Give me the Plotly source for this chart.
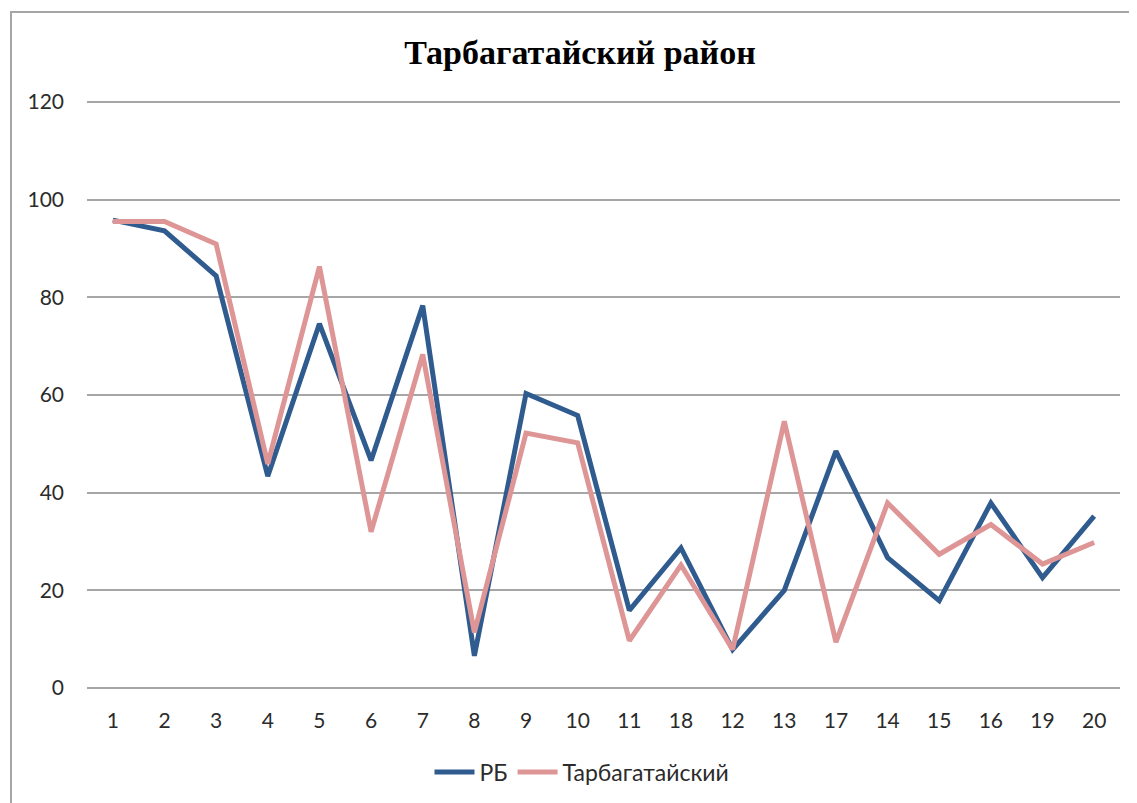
import plotly.graph_objects as go

categories = ["1", "2", "3", "4", "5", "6", "7", "8", "9", "10",
              "11", "18", "12", "13", "17", "14", "15", "16", "19", "20"]
rb = [95.8, 93.6, 84.4, 43.4, 74.6, 46.6, 78.3, 6.6, 60.3, 55.8,
      15.9, 28.7, 7.9, 20.0, 48.5, 26.7, 17.9, 37.9, 22.6, 35.2]
tarb = [95.5, 95.5, 90.9, 45.9, 86.3, 32.0, 68.3, 11.4, 52.2, 50.2,
        9.7, 25.2, 7.9, 54.6, 9.4, 37.9, 27.4, 33.5, 25.4, 29.8]
series_names = ["РБ", "Тарбагатайский"]
y_ticks = [0, 20, 40, 60, 80, 100, 120]
title_text = "Тарбагатайский район"

# page body has an 8px margin, so the figure is drawn 8px lower/right
W, H = 1129, 795
L, R, T, B = 79, 17, 89, 110

fig = go.Figure()
fig.add_trace(go.Scatter(x=categories, y=rb, mode="lines", name=series_names[0],
                         line=dict(color="#2F5B8F", width=5)))
fig.add_trace(go.Scatter(x=categories, y=tarb, mode="lines", name=series_names[1],
                         line=dict(color="#DE9596", width=5)))

pw = W - L - R
ph = H - T - B
fig.add_shape(type="rect", xref="paper", yref="paper",
              x0=(3 - L) / pw, x1=(W + 10 - L) / pw,
              y0=-(B + 10) / ph, y1=(H - B - 4) / ph,
              line=dict(color="#A6A6A6", width=2), fillcolor="rgba(0,0,0,0)", layer="below")

fig.update_layout(
    width=W, height=H,
    margin=dict(l=L, r=R, t=T, b=B),
    paper_bgcolor="white", plot_bgcolor="white",
    title=dict(text="<b>" + title_text + "</b>", x=572 / W, xref="container", xanchor="center",
               y=1 - 44 / H, yref="container", yanchor="middle",
               font=dict(family="Liberation Serif", size=34, color="#000000")),
    showlegend=True,
    legend=dict(orientation="h", xref="container", x=574 / W, xanchor="center",
                yref="container", y=1 - 764 / H, yanchor="middle",
                font=dict(family="Lato", size=23, color="#2B2B2B"),
                itemwidth=40),
    font=dict(family="Lato", size=21, color="#2B2B2B"),
)
fig.update_xaxes(type="category", range=[-0.5, 19.5], showgrid=False, showline=False,
                 zeroline=False, ticks="",
                 tickfont=dict(family="Lato", size=21, color="#2B2B2B"),
                 ticklabelstandoff=13, fixedrange=True)
fig.update_yaxes(range=[-1, 121], tickvals=y_ticks, showgrid=True, gridcolor="#A6A6A6",
                 gridwidth=2, zeroline=False, showline=False, ticks="",
                 tickfont=dict(family="Lato", size=21, color="#2B2B2B"),
                 ticklabelstandoff=22, fixedrange=True)

fig.write_html("out.html")
